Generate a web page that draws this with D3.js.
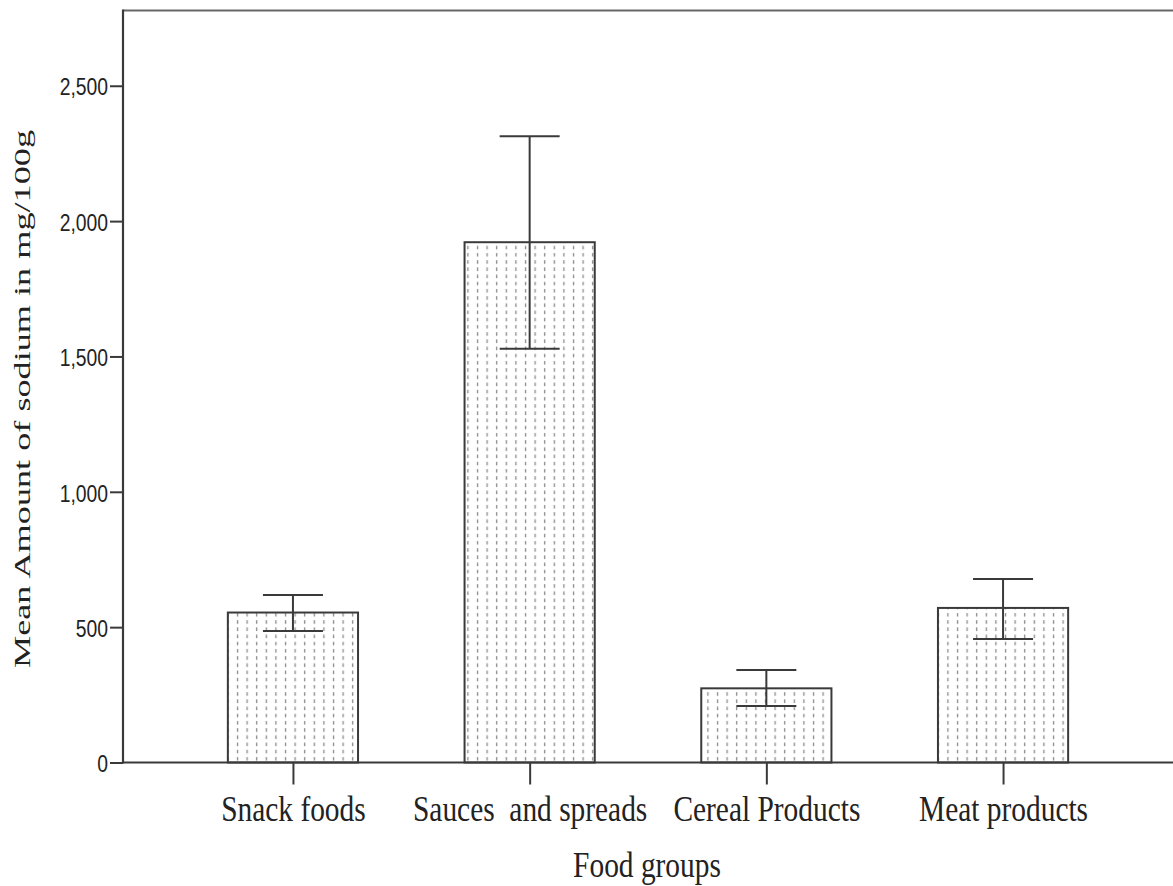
<!DOCTYPE html>
<html>
<head>
<meta charset="utf-8">
<script src="https://cdn.jsdelivr.net/npm/d3@7"></script>
<style>
  html, body { margin: 0; padding: 0; background: #fff; }
  svg { display: block; }
  text { white-space: pre; }
</style>
</head>
<body>
<svg id="chart" width="1173" height="886"></svg>
<script>
// Mean sodium content (mg/100g) by food group, with error bar limits
const categories = ["Snack foods", "Sauces  and spreads", "Cereal Products", "Meat products"];
const means      = [554, 1922, 274, 571];
const errLow     = [486, 1528, 209, 456];
const errHigh    = [619, 2313, 342, 678];
const yTicks     = [0, 500, 1000, 1500, 2000, 2500];
const yTitle     = "Mean Amount of sodium in mg/100g";
const xTitle     = "Food groups";

const svg = d3.select("#chart");
const W = 1173, H = 886;
const plot = { left: 123, right: 1173, top: 10.5, bottom: 762.5 };
const axisColor = "#3a3a3a";
const hScale = 0.84; // horizontal condensing of the glyphs

// dotted vertical fill used inside the bars
const defs = svg.append("defs");
const pat = defs.append("pattern")
  .attr("id", "vdash")
  .attr("patternUnits", "userSpaceOnUse")
  .attr("x", 4.6).attr("y", 0)
  .attr("width", 9.6).attr("height", 7.2);
pat.append("rect").attr("width", 9.6).attr("height", 7.2).attr("fill", "#fff");
pat.append("line")
  .attr("x1", 2.5).attr("x2", 2.5).attr("y1", 1).attr("y2", 4.6)
  .attr("stroke", "#8a8a8a").attr("stroke-width", 1.3);

const x = d3.scalePoint()
  .domain(categories)
  .range([plot.left, plot.right])
  .padding(0.718);
const step = x.step();
const barW = step * 0.55;
const capW = 60;

const y = d3.scaleLinear()
  .domain([0, 2778])
  .range([plot.bottom, plot.top]);

// frame top edge
svg.append("line")
  .attr("x1", plot.left).attr("x2", plot.right)
  .attr("y1", plot.top).attr("y2", plot.top)
  .attr("stroke", "#666").attr("stroke-width", 2);

// bars
const data = categories.map((c, i) => ({ c, m: means[i], lo: errLow[i], hi: errHigh[i] }));
svg.append("g").selectAll("rect")
  .data(data).join("rect")
  .attr("x", d => x(d.c) - barW / 2)
  .attr("width", barW)
  .attr("y", d => y(d.m))
  .attr("height", d => y(0) - y(d.m))
  .attr("fill", "url(#vdash)")
  .attr("stroke", axisColor)
  .attr("stroke-width", 2);

// error bars
const eb = svg.append("g").attr("stroke", axisColor).attr("stroke-width", 2);
eb.selectAll("line.stem").data(data).join("line").attr("class", "stem")
  .attr("x1", d => x(d.c)).attr("x2", d => x(d.c))
  .attr("y1", d => y(d.lo)).attr("y2", d => y(d.hi));
eb.selectAll("line.capHi").data(data).join("line").attr("class", "capHi")
  .attr("x1", d => x(d.c) - capW / 2).attr("x2", d => x(d.c) + capW / 2)
  .attr("y1", d => y(d.hi)).attr("y2", d => y(d.hi));
eb.selectAll("line.capLo").data(data).join("line").attr("class", "capLo")
  .attr("x1", d => x(d.c) - capW / 2).attr("x2", d => x(d.c) + capW / 2)
  .attr("y1", d => y(d.lo)).attr("y2", d => y(d.lo));

// y axis
const yAxis = svg.append("g")
  .attr("transform", `translate(${plot.left},0)`)
  .call(d3.axisLeft(y).tickValues(yTicks).tickSize(13).tickPadding(2)
    .tickFormat(d3.format(",")));
yAxis.select(".domain").remove();
yAxis.selectAll(".tick line").attr("stroke", axisColor).attr("stroke-width", 2);
yAxis.selectAll(".tick text")
  .attr("fill", "#222")
  .attr("font-family", "'Liberation Sans', Arial, sans-serif")
  .attr("font-size", 23)
  .attr("dy", "0.4em");
svg.append("line")
  .attr("x1", plot.left).attr("x2", plot.left)
  .attr("y1", plot.top - 1).attr("y2", plot.bottom + 1)
  .attr("stroke", axisColor).attr("stroke-width", 2.2);

// x axis
const xAxis = svg.append("g")
  .attr("transform", `translate(0,${plot.bottom})`)
  .call(d3.axisBottom(x).tickSize(22).tickPadding(12));
xAxis.select(".domain").remove();
xAxis.selectAll(".tick line").attr("stroke", axisColor).attr("stroke-width", 2);
xAxis.selectAll(".tick text")
  .attr("fill", "#222")
  .attr("font-family", "'Liberation Serif', 'Times New Roman', serif")
  .attr("font-size", 35)
  .attr("dy", "0.71em");
svg.append("line")
  .attr("x1", plot.left).attr("x2", plot.right)
  .attr("y1", plot.bottom).attr("y2", plot.bottom)
  .attr("stroke", axisColor).attr("stroke-width", 2.2);

// axis titles
svg.append("text")
  .attr("class", "xtitle")
  .attr("x", 647).attr("y", 877)
  .attr("text-anchor", "middle")
  .attr("fill", "#222")
  .attr("font-family", "'Liberation Serif', 'Times New Roman', serif")
  .attr("font-size", 35)
  .text(xTitle);

svg.append("text")
  .attr("class", "ytitle")
  .attr("transform", "translate(30,399) rotate(-90)")
  .attr("text-anchor", "middle")
  .attr("fill", "#222")
  .attr("font-family", "'Liberation Serif', 'Times New Roman', serif")
  .attr("font-size", 23)
  .text(yTitle);

// condense horizontal labels to the narrow glyph proportions
svg.selectAll(".tick text, .xtitle").each(function () {
  const len = this.getComputedTextLength();
  d3.select(this).attr("textLength", len * hScale).attr("lengthAdjust", "spacingAndGlyphs");
});
// rotated title runs along the vertical extent of the plot
svg.select(".ytitle").each(function () {
  d3.select(this).attr("textLength", 538).attr("lengthAdjust", "spacingAndGlyphs");
});
</script>
</body>
</html>
